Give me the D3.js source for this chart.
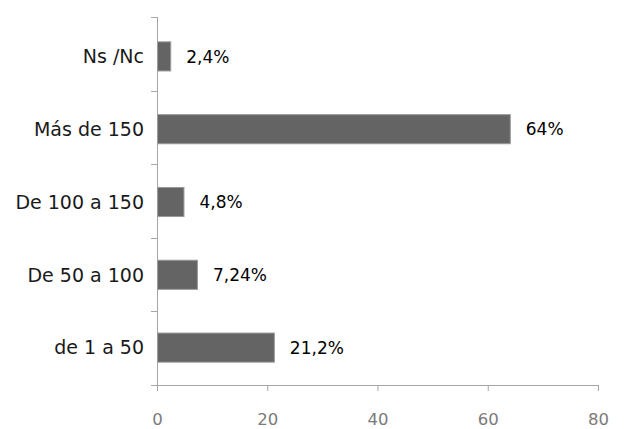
<!DOCTYPE html>
<html>
<head>
<meta charset="utf-8">
<style>
  body { margin: 0; background: #fff; }
  svg { font-family: "DejaVu Sans", Verdana, sans-serif; }
</style>
</head>
<body>
<svg width="625" height="429"></svg>
<script src="https://d3js.org/d3.v7.min.js"></script>
<script>
// data, top to bottom
var categories = ["Ns /Nc", "Más de 150", "De 100 a 150", "De 50 a 100", "de 1 a 50"];
var values = [2.4, 64, 4.8, 7.24, 21.2];
var valueLabels = ["2,4%", "64%", "4,8%", "7,24%", "21,2%"];
var xTicks = [0, 20, 40, 60, 80];

var svg = d3.select("svg"),
    margin = {top: 17, right: 27, bottom: 44, left: 157},
    width = +svg.attr("width") - margin.left - margin.right,
    height = +svg.attr("height") - margin.top - margin.bottom,
    g = svg.append("g").attr("transform", "translate(" + margin.left + "," + margin.top + ")");

var x = d3.scaleLinear().domain([0, 80]).range([0, width]);
var y = d3.scaleBand().domain(categories).range([3, height - 1]).paddingInner(0.6).paddingOuter(0.3);

var data = categories.map(function(c, i) { return {cat: c, value: values[i], label: valueLabels[i]}; });

// y axis: line with ticks at band boundaries
var bounds = d3.range(categories.length + 1).map(function(i) { return i * height / categories.length; });
g.append("line")
  .attr("x1", 0.5).attr("x2", 0.5)
  .attr("y1", 0).attr("y2", height)
  .attr("stroke", "#a6a6a6");
g.selectAll(".ytick")
  .data(bounds)
  .enter().append("line")
  .attr("class", "ytick")
  .attr("x1", -6).attr("x2", 0.5)
  .attr("y1", function(d) { return Math.round(d) + 0.5; })
  .attr("y2", function(d) { return Math.round(d) + 0.5; })
  .attr("stroke", "#a6a6a6");

// x axis
var xAxis = g.append("g")
  .attr("transform", "translate(0," + height + ")")
  .call(d3.axisBottom(x).tickValues(xTicks).tickSize(6).tickSizeOuter(0).tickPadding(22));
xAxis.select(".domain").attr("stroke", "#a6a6a6").attr("d", "M-5,0.5H" + width);
xAxis.selectAll(".tick line").attr("stroke", "#a6a6a6");
xAxis.selectAll("text")
  .attr("fill", "#7a7a7a")
  .style("font-size", "16.5px")
  .style("font-family", "DejaVu Sans, Verdana, sans-serif");

// bars
g.selectAll(".bar")
  .data(data)
  .enter().append("rect")
  .attr("class", "bar")
  .attr("x", 0.5)
  .attr("y", function(d) { return y(d.cat); })
  .attr("width", function(d) { return x(d.value); })
  .attr("height", y.bandwidth())
  .attr("fill", "#646464")
  .attr("stroke", "#9a9a9a")
  .attr("stroke-width", 1);

// category labels
g.selectAll(".cat")
  .data(data)
  .enter().append("text")
  .attr("class", "cat")
  .attr("x", -13)
  .attr("y", function(d) { return y(d.cat) + y.bandwidth() / 2; })
  .attr("dy", "0.36em")
  .attr("text-anchor", "end")
  .style("font-size", "19px")
  .attr("fill", "#1a1a1a")
  .text(function(d) { return d.cat; });

// value labels
g.selectAll(".val")
  .data(data)
  .enter().append("text")
  .attr("class", "val")
  .attr("x", function(d) { return x(d.value) + 16; })
  .attr("y", function(d) { return y(d.cat) + y.bandwidth() / 2; })
  .attr("dy", "0.36em")
  .style("font-size", "17px")
  .attr("fill", "#000")
  .text(function(d) { return d.label; });
</script>
</body>
</html>
